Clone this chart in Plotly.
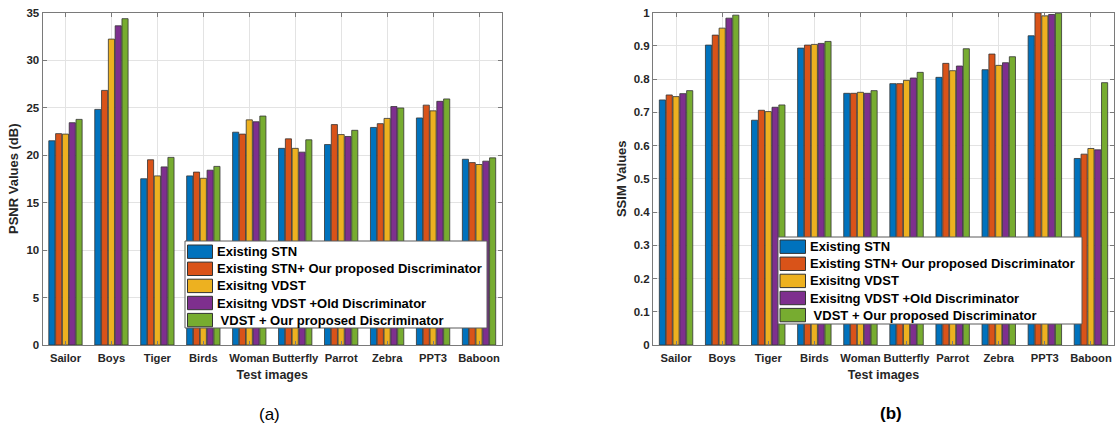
import plotly.graph_objects as go

categories = ["Sailor", "Boys", "Tiger", "Birds", "Woman", "Butterfly", "Parrot", "Zebra", "PPT3", "Baboon"]
series_names = [
    "Existing STN",
    "Existing STN+ Our proposed Discriminator",
    "Exisitng VDST",
    "Exisitng VDST +Old Discriminator",
    " VDST + Our proposed Discriminator",
]
colors = ["#0072BD", "#D95319", "#EDB120", "#7E2F8E", "#77AC30"]

psnr_stn = [21.5, 24.8, 17.5, 17.8, 22.4, 20.7, 21.1, 22.9, 23.9, 19.55]
psnr_stn_disc = [22.25, 26.8, 19.5, 18.2, 22.2, 21.7, 23.2, 23.3, 25.25, 19.2]
psnr_vdst = [22.2, 32.2, 17.8, 17.55, 23.7, 20.7, 22.15, 23.85, 24.65, 19.0]
psnr_vdst_old = [23.4, 33.6, 18.75, 18.4, 23.5, 20.3, 21.95, 25.1, 25.65, 19.35]
psnr_vdst_ours = [23.75, 34.35, 19.75, 18.8, 24.1, 21.6, 22.6, 24.95, 25.9, 19.7]

ssim_stn = [0.737, 0.902, 0.676, 0.893, 0.757, 0.786, 0.805, 0.828, 0.930, 0.561]
ssim_stn_disc = [0.752, 0.932, 0.706, 0.902, 0.757, 0.786, 0.847, 0.875, 0.999, 0.574]
ssim_vdst = [0.747, 0.953, 0.702, 0.904, 0.760, 0.796, 0.825, 0.841, 0.990, 0.591]
ssim_vdst_old = [0.756, 0.983, 0.715, 0.907, 0.757, 0.803, 0.839, 0.849, 0.994, 0.587]
ssim_vdst_ours = [0.765, 0.992, 0.722, 0.913, 0.765, 0.820, 0.891, 0.867, 0.998, 0.789]

psnr_series = [psnr_stn, psnr_stn_disc, psnr_vdst, psnr_vdst_old, psnr_vdst_ours]
ssim_series = [ssim_stn, ssim_stn_disc, ssim_vdst, ssim_vdst_old, ssim_vdst_ours]

psnr_ticks = [0, 5, 10, 15, 20, 25, 30, 35]
ssim_ticks = [0, 0.1, 0.2, 0.3, 0.4, 0.5, 0.6, 0.7, 0.8, 0.9, 1]
ssim_ticklabels = ["0", "0.1", "0.2", "0.3", "0.4", "0.5", "0.6", "0.7", "0.8", "0.9", "1"]

FONT = "Liberation Sans"
AX = "#262626"
W, H = 1116, 428


def px_x(p):
    return p / W


def px_y(p):
    return 1 - p / H


fig = go.Figure()
for name, vals, c in zip(series_names, psnr_series, colors):
    fig.add_trace(go.Bar(x=categories, y=vals, name=name, marker_color=c,
                         marker_line=dict(color="#333333", width=0.8),
                         xaxis="x", yaxis="y", showlegend=False))
for name, vals, c in zip(series_names, ssim_series, colors):
    fig.add_trace(go.Bar(x=categories, y=vals, name=name, marker_color=c,
                         marker_line=dict(color="#333333", width=0.8),
                         xaxis="x2", yaxis="y2", showlegend=False))

common_x = dict(showline=True, linecolor="#7a7a7a", linewidth=1, mirror="allticks",
                ticks="inside", ticklen=4, tickcolor="#7a7a7a", tickangle=0, automargin=False,
                showgrid=True, gridcolor="#e3e3e3", ticklabelstandoff=3,
                tickfont=dict(family=FONT, size=11.2, color=AX, weight="bold"),
                title_font=dict(family=FONT, size=12.5, color=AX, weight="bold"),
                title_standoff=6)
common_y = dict(showline=True, linecolor="#7a7a7a", linewidth=1, mirror="allticks",
                ticks="inside", ticklen=4, tickcolor="#7a7a7a", automargin=False,
                showgrid=True, gridcolor="#e3e3e3", zeroline=False,
                tickfont=dict(family=FONT, size=11.5, color=AX, weight="bold"),
                title_font=dict(family=FONT, size=13, color=AX, weight="bold"),
                title_standoff=4)

# custom legend boxes (position/style only)
legend_boxes = [
    dict(box=(185, 241, 487, 328), sw_x=(187.5, 212.5), txt_x=215, row0=251.7),
    dict(box=(778, 237, 1082, 324), sw_x=(780, 805.5), txt_x=808, row0=246.7),
]
ROW = 17.1
SW_H = 13.4

shapes = []
annotations = []
for lb in legend_boxes:
    x0, y0, x1, y1 = lb["box"]
    shapes.append(dict(type="rect", xref="paper", yref="paper", layer="above",
                       x0=px_x(x0), x1=px_x(x1), y0=px_y(y1), y1=px_y(y0),
                       fillcolor="white", line=dict(color="#5a5a5a", width=1)))
    for i, (name, c) in enumerate(zip(series_names, colors)):
        cy = lb["row0"] + ROW * i
        shapes.append(dict(type="rect", xref="paper", yref="paper", layer="above",
                           x0=px_x(lb["sw_x"][0]), x1=px_x(lb["sw_x"][1]),
                           y0=px_y(cy + SW_H / 2), y1=px_y(cy - SW_H / 2),
                           fillcolor=c, line=dict(color="#333333", width=1)))
        label = ("\u00a0" + name[1:]) if name.startswith(" ") else name
        annotations.append(dict(text=label, xref="paper", yref="paper",
                                x=px_x(lb["txt_x"]), y=px_y(cy), xanchor="left", yanchor="middle",
                                showarrow=False,
                                font=dict(family=FONT, size=13, color="black", weight="bold")))

annotations += [
    dict(text="(a)", x=px_x(269), y=px_y(414), xref="paper", yref="paper",
         xanchor="center", yanchor="middle",
         showarrow=False, font=dict(family=FONT, size=17, color="black")),
    dict(text="(b)", x=px_x(891), y=px_y(413), xref="paper", yref="paper",
         xanchor="center", yanchor="middle",
         showarrow=False, font=dict(family=FONT, size=17, color="black", weight="bold")),
]

fig.update_layout(
    width=W, height=H,
    margin=dict(l=0, r=0, t=0, b=0),
    paper_bgcolor="white", plot_bgcolor="white",
    barmode="group", bargap=0.26, bargroupgap=0.1,
    xaxis=dict(domain=[px_x(42.5), px_x(502)], anchor="y", title_text="Test images", **common_x),
    yaxis=dict(domain=[px_y(345), px_y(12.5)], anchor="x", range=[0, 35], tickvals=psnr_ticks,
               title_text="PSNR Values (dB)", **common_y),
    xaxis2=dict(domain=[px_x(653), px_x(1114)], anchor="y2", title_text="Test images", **common_x),
    yaxis2=dict(domain=[px_y(345), px_y(12.5)], anchor="x2", range=[0, 1], tickvals=ssim_ticks,
                ticktext=ssim_ticklabels, title_text="SSIM Values", **common_y),
    shapes=shapes,
    annotations=annotations,
)

fig.write_html("out.html", config={"displayModeBar": False},
               post_script="document.body.style.margin='0';document.body.style.overflow='hidden';")
